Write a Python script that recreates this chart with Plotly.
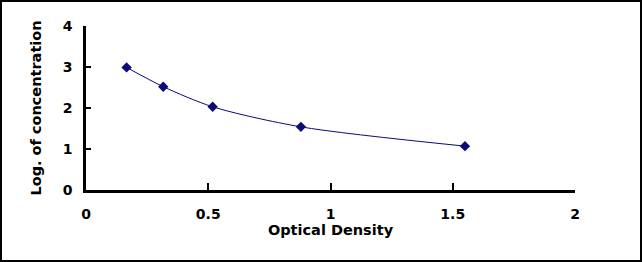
import plotly.graph_objects as go

od = [0.166, 0.316, 0.518, 0.879, 1.550]
log_conc = [2.99, 2.52, 2.03, 1.54, 1.07]
x_ticks = [0, 0.5, 1, 1.5, 2]
x_tick_labels = ["0", "0.5", "1", "1.5", "2"]
y_ticks = [0, 1, 2, 3, 4]
y_tick_labels = ["0", "1", "2", "3", "4"]

navy = "#0B0B78"
font_fam = "DejaVu Sans, Arial, sans-serif"

fig = go.Figure()
fig.add_trace(go.Scatter(
    x=od, y=log_conc, mode="lines+markers",
    line=dict(color=navy, width=1, shape="spline", smoothing=0.8),
    marker=dict(symbol="diamond", size=8, color=navy),
    showlegend=False, hoverinfo="skip",
))

L, R, T, B = 86, 67, 26, 72
W, H = 642 - L - R, 262 - T - B

fig.update_layout(
    width=642, height=262,
    margin=dict(l=L, r=R, t=T, b=B),
    paper_bgcolor="white", plot_bgcolor="white",
    font=dict(family=font_fam, size=14, color="black", weight="bold"),
    xaxis=dict(
        range=[0, 2], tickvals=x_ticks, ticktext=x_tick_labels,
        showline=True, linecolor="black", linewidth=2.5,
        ticks="inside", ticklen=7, tickwidth=2, tickcolor="black",
        showgrid=False, zeroline=False, ticklabelstandoff=9,
        title=dict(text="Optical Density", font=dict(size=14.5, weight="bold"), standoff=4),
    ),
    yaxis=dict(
        range=[0, 4], tickvals=y_ticks, ticktext=y_tick_labels,
        showline=True, linecolor="black", linewidth=2.5,
        ticks="inside", ticklen=5, tickwidth=2, tickcolor="black",
        showgrid=False, zeroline=False, ticklabelstandoff=8,
        title=dict(text="Log. of concentration", font=dict(size=14.5, weight="bold"), standoff=18),
    ),
    shapes=[dict(
        type="rect", xref="paper", yref="paper",
        x0=(1 - L) / W, x1=(641 - L) / W,
        y0=(190 - 261) / H, y1=(190 - 1) / H,
        line=dict(color="black", width=2), layer="above",
    )],
)

fig.write_html("out.html")
